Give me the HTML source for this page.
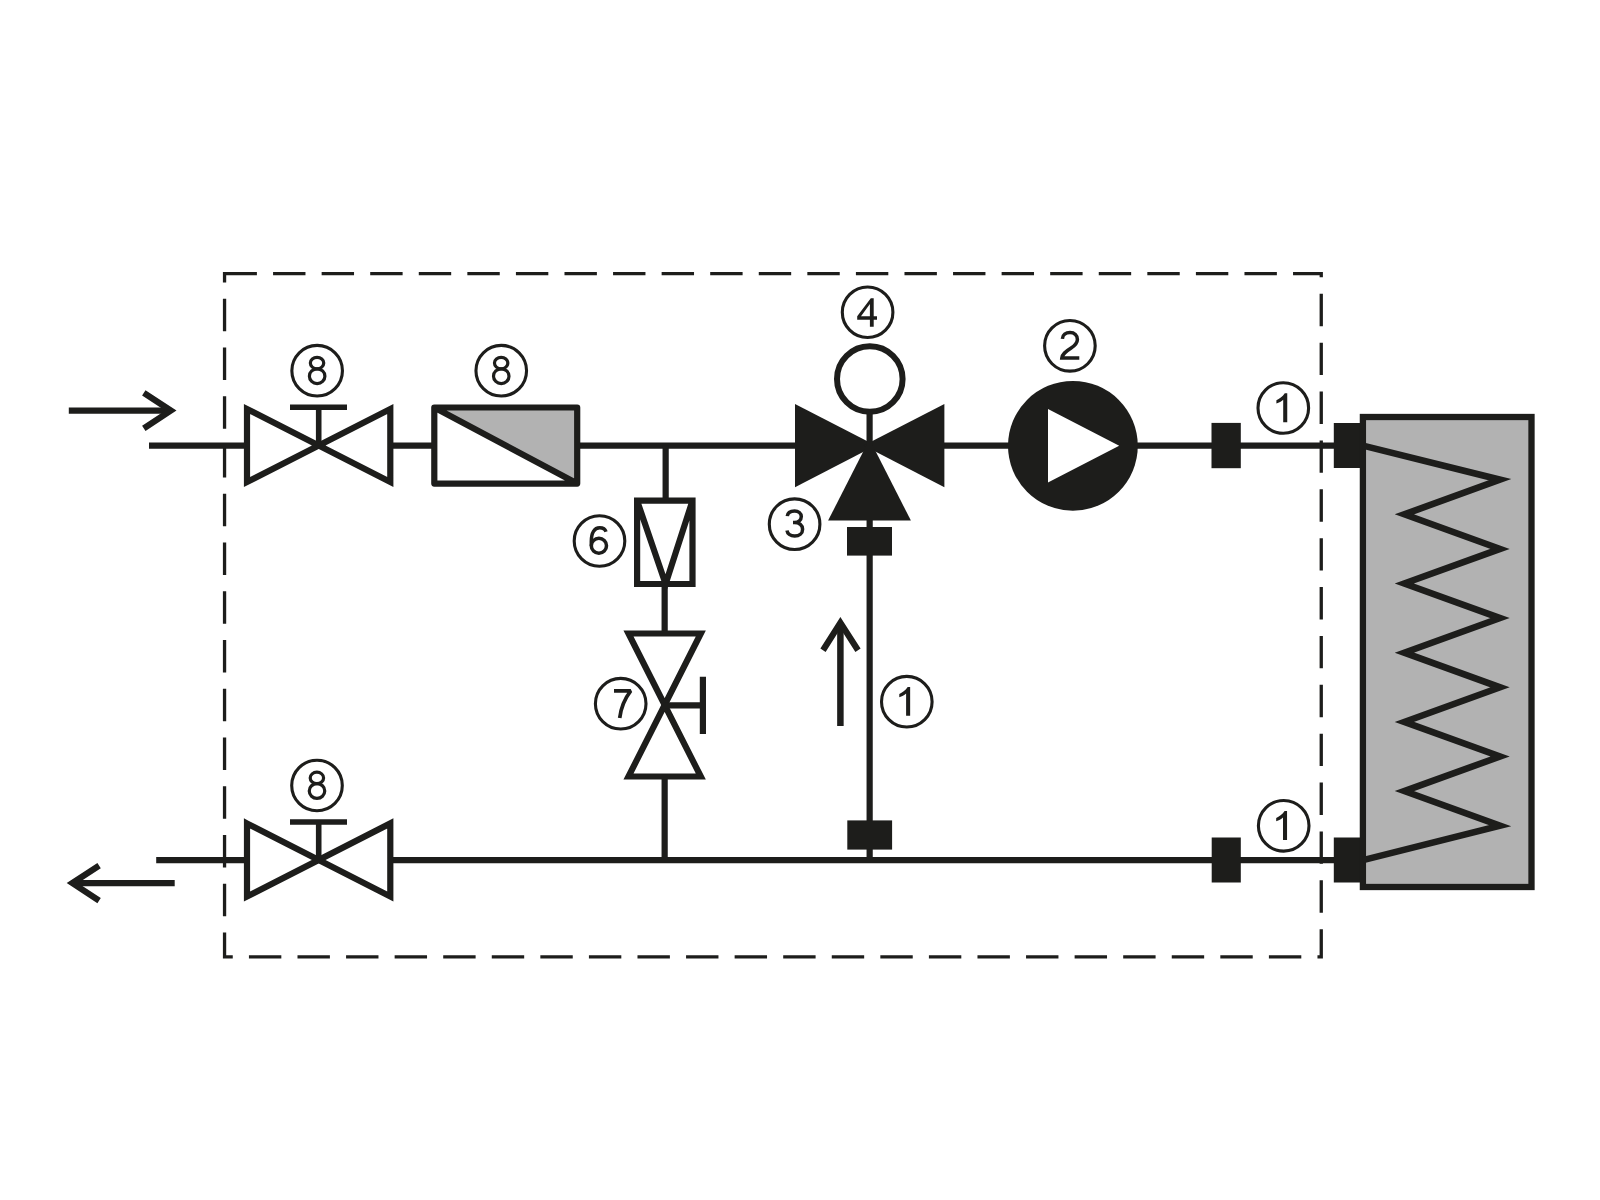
<!DOCTYPE html>
<html><head><meta charset="utf-8"><style>html,body{margin:0;padding:0;background:#fff;width:1600px;height:1200px;overflow:hidden}svg{display:block}</style></head>
<body>
<svg width="1600" height="1200" viewBox="0 0 1600 1200">
<rect width="1600" height="1200" fill="#ffffff"/>
<path d="M224.50 273.70H256.90M273.07 273.70H305.47M321.64 273.70H354.04M370.21 273.70H402.61M418.78 273.70H451.18M467.35 273.70H499.75M515.92 273.70H548.32M564.49 273.70H596.89M613.06 273.70H645.46M661.63 273.70H694.03M710.20 273.70H742.60M758.77 273.70H791.17M807.34 273.70H839.74M855.91 273.70H888.31M904.48 273.70H936.88M953.05 273.70H985.45M1001.62 273.70H1034.02M1050.19 273.70H1082.59M1098.76 273.70H1131.16M1147.33 273.70H1179.73M1195.90 273.70H1228.30M1244.47 273.70H1276.87M1293.04 273.70H1322.90M1321.25 272.05V277.35M1321.25 293.75V326.15M1321.25 342.63V375.03M1321.25 391.51V423.91M1321.25 440.39V472.79M1321.25 489.27V521.67M1321.25 538.15V570.55M1321.25 587.03V619.43M1321.25 635.91V668.31M1321.25 684.79V717.19M1321.25 733.67V766.07M1321.25 782.55V814.95M1321.25 831.43V863.83M1321.25 880.31V912.71M1321.25 929.19V958.60M1317.47 956.95H1322.90M1268.90 956.95H1301.30M1220.33 956.95H1252.73M1171.76 956.95H1204.16M1123.19 956.95H1155.59M1074.62 956.95H1107.02M1026.05 956.95H1058.45M977.48 956.95H1009.88M928.91 956.95H961.31M880.34 956.95H912.74M831.77 956.95H864.17M783.20 956.95H815.60M734.63 956.95H767.03M686.06 956.95H718.46M637.49 956.95H669.89M588.92 956.95H621.32M540.35 956.95H572.75M491.78 956.95H524.18M443.21 956.95H475.61M394.64 956.95H427.04M346.07 956.95H378.47M297.50 956.95H329.90M248.93 956.95H281.33M222.90 956.95H232.76M224.55 932.60V958.60M224.55 883.85V916.25M224.55 835.10V867.50M224.55 786.35V818.75M224.55 737.60V770.00M224.55 688.85V721.25M224.55 640.10V672.50M224.55 591.35V623.75M224.55 542.60V575.00M224.55 493.85V526.25M224.55 445.10V477.50M224.55 396.35V428.75M224.55 347.60V380.00M224.55 298.85V331.25M224.55 272.05V282.50" stroke="#1d1d1b" stroke-width="3.3" fill="none"/>
<g stroke="#1d1d1b" stroke-width="6.2" fill="none">
<path d="M149 445.65H1340M156.2 860.1H1340"/>
<path d="M665.65 445.65V500M664.65 584V860M869.65 445.65V860"/>
<path d="M68.8 410.6H169.5"/>
<path d="M143.8 392.8L170.85 410.6L143.8 428.4" stroke-miterlimit="10"/>
<path d="M174.7 883.1H73.5"/>
<path d="M99.1 865.6L72.35 883.1L99.1 900.6" stroke-miterlimit="10"/>
<path d="M840.4 726V625" stroke-width="6.5"/>
<path d="M823 650.25L840.4 622.75L858 650.25" stroke-miterlimit="10"/>
</g>
<path d="M247 409L390.3 482V409L247 482Z" fill="#fff" stroke="#1d1d1b" stroke-width="6.2" stroke-miterlimit="10"/><path d="M318.7 445.65V407.2M290 407.2H347" stroke="#1d1d1b" stroke-width="5.6"/>

<path d="M247 823.4L390.3 896.5V823.4L247 896.5Z" fill="#fff" stroke="#1d1d1b" stroke-width="6.2" stroke-miterlimit="10"/><path d="M318.7 860.1V822M290 822H347" stroke="#1d1d1b" stroke-width="5.6"/>

<!-- filter -->
<rect x="434.3" y="407.5" width="142.9" height="76.1" fill="#fff"/><path d="M434.3 407.5H577.2V483.6Z" fill="#b2b2b2"/>
<path d="M434.3 407.5H577.2V483.6H434.3ZM434.3 407.5L577.2 483.6" fill="none" stroke="#1d1d1b" stroke-width="6.2" stroke-linejoin="round"/>
<!-- check valve -->
<rect x="637.1" y="500.7" width="55.4" height="83.3" fill="#fff"/><path d="M637.1 500.7H692.5V584H637.1ZM637.1 500.7L665.6 584L692.5 500.7" fill="none" stroke="#1d1d1b" stroke-width="6.2" stroke-miterlimit="10"/>
<!-- gate valve 7 -->
<path d="M628.5 633.5H700.8L628.5 776.5H700.8Z" fill="#fff" stroke="#1d1d1b" stroke-width="6.2" stroke-miterlimit="10"/>
<path d="M665 705.4H702.9M702.9 676.7V734.1" stroke="#1d1d1b" stroke-width="6.2"/>
<!-- 3-way valve -->
<g fill="#1d1d1b">
<path d="M795 403.9L795 487.2L875.7 445.5Z"/>
<path d="M944.4 403.9L944.4 487.2L863.7 445.5Z"/>
<path d="M828.1 520.6H910.9L869.5 439.2Z"/>
<rect x="847" y="527" width="45" height="28.6"/>
<rect x="847.3" y="820.4" width="44.8" height="29.2"/>
<rect x="1211.5" y="422.9" width="29.3" height="45.3"/>
<rect x="1211.7" y="837.5" width="29.1" height="45"/>
<rect x="1333.8" y="423" width="28" height="45"/>
<rect x="1333.8" y="837.5" width="28" height="45"/>
<circle cx="1072.9" cy="445.8" r="64.9"/>
</g>
<circle cx="869.8" cy="379" r="32.8" fill="#fff" stroke="#1d1d1b" stroke-width="6"/>
<path d="M869.6 412V446" stroke="#1d1d1b" stroke-width="6.2"/>
<path d="M1048 409.1V482.5L1119.2 445.8Z" fill="#fff"/>
<!-- tank -->
<rect x="1362.9" y="417" width="168.6" height="470" fill="#b2b2b2" stroke="#1d1d1b" stroke-width="6.3"/>
<path d="M1363.00 445.65L1500.00 479.70L1404.40 514.30L1500.00 548.90L1404.40 583.50L1500.00 618.10L1404.40 652.70L1500.00 687.30L1404.40 721.90L1500.00 756.50L1404.40 791.10L1500.00 825.70L1363.00 860.10" fill="none" stroke="#1d1d1b" stroke-width="6.6" stroke-miterlimit="10"/>
<circle cx="317.15" cy="370.7" r="25.3" fill="none" stroke="#1d1d1b" stroke-width="3.1"/><g transform="translate(317.15 370.7)" fill="none" stroke="#1d1d1b" stroke-width="3"><ellipse stroke-width="3.2" cx="-0.1" cy="-7.6" rx="6.7" ry="5.7"/><ellipse stroke-width="3.2" cx="0" cy="5.5" rx="7.75" ry="7.4"/></g>
<circle cx="501.25" cy="370.7" r="25.3" fill="none" stroke="#1d1d1b" stroke-width="3.1"/><g transform="translate(501.25 370.7)" fill="none" stroke="#1d1d1b" stroke-width="3"><ellipse stroke-width="3.2" cx="-0.1" cy="-7.6" rx="6.7" ry="5.7"/><ellipse stroke-width="3.2" cx="0" cy="5.5" rx="7.75" ry="7.4"/></g>
<circle cx="867.6" cy="312.25" r="25.3" fill="none" stroke="#1d1d1b" stroke-width="3.1"/><g transform="translate(867.60 312.25)" fill="none" stroke="#1d1d1b" stroke-width="3"><path stroke="none" fill="#1d1d1b" fill-rule="evenodd" d="M3.2 -14.1H6.1V4.05H9.4V7.55H6.1V14.62H2.3V7.55H-10.4V4.05ZM-6.6 4.05H2.3V-8.15Z"/></g>
<circle cx="1069.9" cy="345.85" r="25.3" fill="none" stroke="#1d1d1b" stroke-width="3.1"/><g transform="translate(1069.90 345.85)" fill="none" stroke="#1d1d1b" stroke-width="3"><path stroke-width="3.5" d="M-7.5 -7.05C-7.3 -11.05 -4.1 -13.25 0.1 -13.25C4.6 -13.25 7.5 -10.25 7.5 -6.45C7.5 -2.45 4.9 -0.25 0.9 2.35C-4.5 5.75 -7.7 8.15 -8.1 12.25H9.4"/></g>
<circle cx="1283.3" cy="408.0" r="25.3" fill="none" stroke="#1d1d1b" stroke-width="3.1"/><g transform="translate(1283.90 408.0)" fill="none" stroke="#1d1d1b" stroke-width="3"><path stroke="none" fill="#1d1d1b" d="M0.9 -14.75H3.35V14.15H-0.7V-8.2C-2.6 -6.3 -4.8 -5.4 -7.5 -4.45V-7.75C-4.5 -9.2 -1.6 -11 0.9 -14.75Z"/></g>
<circle cx="794.6" cy="524.15" r="25.3" fill="none" stroke="#1d1d1b" stroke-width="3.1"/><g transform="translate(794.60 524.15)" fill="none" stroke="#1d1d1b" stroke-width="3"><path stroke-width="3.5" d="M-7.3 -7.95C-7 -11.35 -4 -13.25 0 -13.25C3.8 -13.25 6.7 -10.85 6.7 -7.55C6.7 -3.95 3.8 -1.65 -0.1 -1.65H-1.6M-0.1 -1.65C4.7 -1.65 8 1.05 8 5.05C8 9.25 4.6 11.95 0.1 11.95C-4.3 11.95 -7.2 9.45 -7.6 6.35"/></g>
<circle cx="599.5" cy="541.0" r="25.3" fill="none" stroke="#1d1d1b" stroke-width="3.1"/><g transform="translate(599.50 541.0)" fill="none" stroke="#1d1d1b" stroke-width="3"><path stroke-width="3.5" d="M6.5 -9.2C5.7 -11.8 3.3 -13.2 0.2 -13.2C-5.2 -13.2 -8.2 -8.2 -8.2 0.5V4.7"/><ellipse stroke-width="3.5" cx="-0.6" cy="4.7" rx="7.6" ry="7.5"/></g>
<circle cx="620.7" cy="703.7" r="25.3" fill="none" stroke="#1d1d1b" stroke-width="3.1"/><g transform="translate(620.70 703.7)" fill="none" stroke="#1d1d1b" stroke-width="3"><path stroke-width="3.7" stroke-linejoin="bevel" d="M-6.7 -12.8H10.0C4.2 -5.2 0.3 3.3 -1 14.3"/></g>
<circle cx="906.8" cy="701.7" r="25.3" fill="none" stroke="#1d1d1b" stroke-width="3.1"/><g transform="translate(906.80 701.7)" fill="none" stroke="#1d1d1b" stroke-width="3"><path stroke="none" fill="#1d1d1b" d="M0.9 -14.75H3.35V14.15H-0.7V-8.2C-2.6 -6.3 -4.8 -5.4 -7.5 -4.45V-7.75C-4.5 -9.2 -1.6 -11 0.9 -14.75Z"/></g>
<circle cx="317.0" cy="785.5" r="25.3" fill="none" stroke="#1d1d1b" stroke-width="3.1"/><g transform="translate(317.00 785.5)" fill="none" stroke="#1d1d1b" stroke-width="3"><ellipse stroke-width="3.2" cx="-0.1" cy="-7.6" rx="6.7" ry="5.7"/><ellipse stroke-width="3.2" cx="0" cy="5.5" rx="7.75" ry="7.4"/></g>
<circle cx="1283.7" cy="825.8" r="25.3" fill="none" stroke="#1d1d1b" stroke-width="3.1"/><g transform="translate(1283.70 825.8)" fill="none" stroke="#1d1d1b" stroke-width="3"><path stroke="none" fill="#1d1d1b" d="M0.9 -14.75H3.35V14.15H-0.7V-8.2C-2.6 -6.3 -4.8 -5.4 -7.5 -4.45V-7.75C-4.5 -9.2 -1.6 -11 0.9 -14.75Z"/></g>

</svg>
</body></html>
